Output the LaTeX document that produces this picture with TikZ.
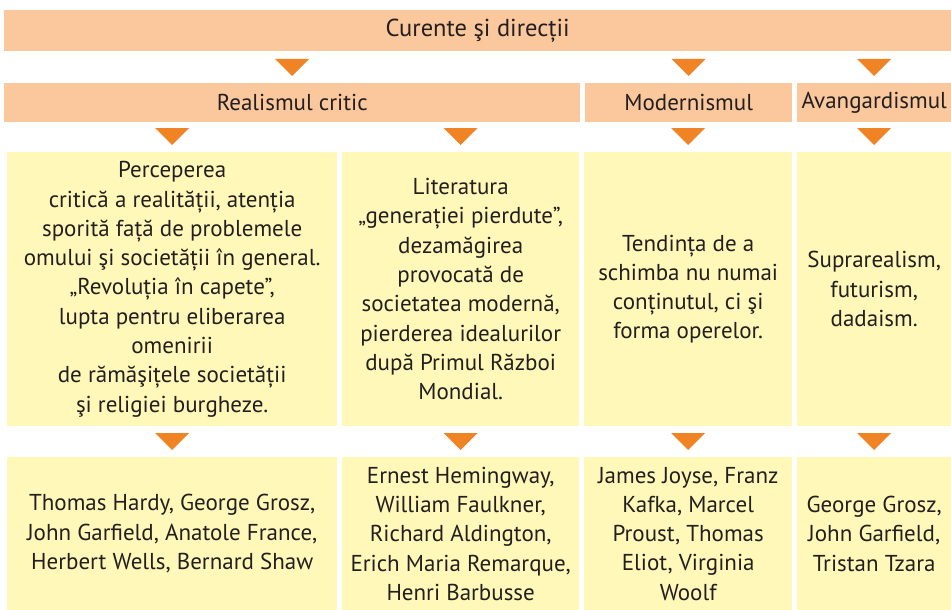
\documentclass[tikz,border=0pt]{standalone}
\usepackage{fontspec}
\setmainfont{PT Sans}
\usetikzlibrary{positioning}

\definecolor{barorange}{HTML}{FAC89C}
\definecolor{triorange}{HTML}{F08323}
\definecolor{boxyellow}{HTML}{FFF8B8}
\definecolor{inktext}{HTML}{231F20}

% small orange triangle sitting above a box
\newcommand\tridown[1]{\fill[tristyle] ([yshift=7pt]#1.north) -- ++(-17,-17) -- ++(34,0) -- cycle;}

\begin{document}
\begin{tikzpicture}[x=1pt, y=-1pt,
    barstyle/.style={rectangle, fill=barorange, anchor=north west, inner sep=0pt, text=inktext, minimum height=39pt, font=\fontsize{23}{27}\selectfont},
    textbox/.style={rectangle, fill=boxyellow, anchor=north west, inner sep=0pt, align=center, text=inktext, font=\fontsize{23}{29.3}\selectfont},
    tristyle/.style={fill=triorange}
]
    \useasboundingbox (0,0) rectangle (951,610);

    \node[barstyle, minimum width=947pt, minimum height=41pt, font=\fontsize{24.5}{28}\selectfont] (top) at (4,10) {Curente şi direcții};

    \node[barstyle, minimum width=576pt] (real) at (4,83) {Realismul critic};
    \node[barstyle, minimum width=207pt] (mod) at (585,83) {Modernismul};
    \node[barstyle, minimum width=154pt] (avg) at (797,83) {Avangardismul};

    \node[textbox, minimum width=330pt, minimum height=274pt] (b1) at (7,152) {Perceperea\\critică a realității, atenția\\sporită față de problemele\\omului şi societății în general.\\„Revoluția în capete”,\\lupta pentru eliberarea\\omenirii\\de rămăşițele societății\\şi religiei burgheze.};
    \node[textbox, minimum width=237pt, minimum height=274pt] (b2) at (342,152) {Literatura\\„generației pierdute”,\\dezamăgirea\\provocată de\\societatea modernă,\\pierderea idealurilor\\după Primul Război\\Mondial.};
    \node[textbox, minimum width=208pt, minimum height=274pt] (b3) at (584,152) {Tendința de a\\schimba nu numai\\conținutul, ci şi\\forma operelor.};
    \node[textbox, minimum width=154pt, minimum height=274pt] (b4) at (797,152) {Suprarealism,\\futurism,\\dadaism.};

    \node[textbox, minimum width=330pt, minimum height=153pt] (a1) at (7,457) {Thomas Hardy, George Grosz,\\John Garfield, Anatole France,\\Herbert Wells, Bernard Shaw};
    \node[textbox, minimum width=237pt, minimum height=153pt] (a2) at (342,457) {Ernest Hemingway,\\William Faulkner,\\Richard Aldington,\\Erich Maria Remarque,\\Henri Barbusse};
    \node[textbox, minimum width=208pt, minimum height=153pt] (a3) at (584,457) {James Joyse, Franz\\Kafka, Marcel\\Proust, Thomas\\Eliot, Virginia\\Woolf};
    \node[textbox, minimum width=154pt, minimum height=153pt] (a4) at (797,457) {George Grosz,\\John Garfield,\\Tristan Tzara};

    \tridown{real}
    \tridown{mod}
    \tridown{avg}
    \tridown{b1}
    \tridown{b2}
    \tridown{b3}
    \tridown{b4}
    \tridown{a1}
    \tridown{a2}
    \tridown{a3}
    \tridown{a4}
\end{tikzpicture}
\end{document}
